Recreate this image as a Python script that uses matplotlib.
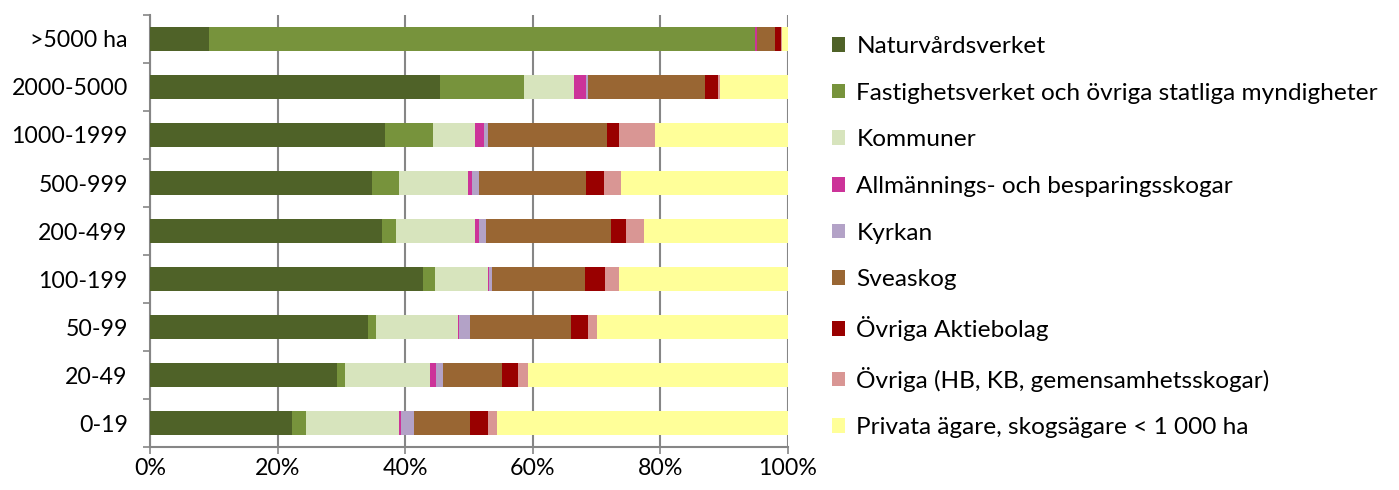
import numpy as np
import matplotlib.pyplot as plt

plt.rcParams['font.family'] = ['Lato', 'DejaVu Sans']

categories = ['0-19', '20-49', '50-99', '100-199', '200-499', '500-999',
              '1000-1999', '2000-5000', '>5000 ha']

owners = ['Naturvårdsverket',
          'Fastighetsverket och övriga statliga myndigheter',
          'Kommuner',
          'Allmännings- och besparingsskogar',
          'Kyrkan',
          'Sveaskog',
          'Övriga Aktiebolag',
          'Övriga (HB, KB, gemensamhetsskogar)',
          'Privata ägare, skogsägare < 1 000 ha']

# share in percent per size class (bottom row -> top row)
naturvard = [22.3, 29.3, 34.2, 42.8, 36.3, 34.8, 36.8, 45.4, 9.3]
fastighet = [2.2, 1.3, 1.3, 1.9, 2.2, 4.2, 7.5, 13.2, 85.6]
kommuner = [14.5, 13.3, 12.7, 8.3, 12.4, 10.9, 6.6, 7.9, 0.0]
allmanning = [0.4, 0.9, 0.3, 0.2, 0.7, 0.6, 1.4, 1.8, 0.3]
kyrkan = [2.0, 1.2, 1.6, 0.4, 1.1, 1.0, 0.7, 0.4, 0.0]
sveaskog = [8.7, 9.1, 15.9, 14.6, 19.5, 16.9, 18.7, 18.3, 2.7]
ovr_ab = [2.9, 2.6, 2.6, 3.1, 2.4, 2.7, 1.8, 2.0, 1.0]
ovriga = [1.4, 1.5, 1.5, 2.2, 2.9, 2.8, 5.6, 0.3, 0.2]
privata = [45.6, 40.8, 29.9, 26.5, 22.5, 26.1, 20.9, 10.7, 1.1]

series = [naturvard, fastighet, kommuner, allmanning, kyrkan,
          sveaskog, ovr_ab, ovriga, privata]
colors = ['#4F6228', '#77933C', '#D7E4BD', '#CC3399', '#B3A2C7',
          '#996633', '#990000', '#D99694', '#FFFF99']

fig = plt.figure(figsize=(13.99, 4.9), dpi=100)
ax = fig.add_axes([150/1399, 1-447/490, 638/1399, 432/490])

y = np.arange(len(categories))
left = np.zeros(len(categories))
handles = []
for vals, c, name in zip(series, colors, owners):
    v = np.array(vals)
    b = ax.barh(y, v, left=left, height=0.52, color=c, label=name, zorder=3)
    handles.append(b)
    left += v

ax.set_xlim(0, 100)
ax.set_ylim(-0.5, len(categories) - 0.5)
ax.set_xticks(np.arange(0, 101, 20))
ax.set_xticklabels([f'{t}%' for t in range(0, 101, 20)])
ax.set_yticks(y)
ax.set_yticklabels(categories)
ax.set_yticks(np.arange(-0.5, len(categories), 1), minor=True)
ax.tick_params(axis='y', which='major', length=0, pad=16, labelsize=16.7)
ax.tick_params(axis='y', which='minor', length=5, color='#868686', width=1.2)
ax.tick_params(axis='x', length=5, color='#868686', width=1.2, labelsize=16.7, pad=3)
ax.grid(axis='x', color='#868686', linewidth=1.5, zorder=0)
for s in ['top', 'right']:
    ax.spines[s].set_visible(False)
for s in ['left', 'bottom']:
    ax.spines[s].set_color('#868686')
    ax.spines[s].set_linewidth(1.5)

fig.legend(handles=handles, loc='upper left', bbox_to_anchor=(810/1399, 1-14/490),
           frameon=False, fontsize=17.6, labelspacing=1.05, handlelength=0.55,
           handleheight=0.55, handletextpad=0.45)

fig.savefig('out.png', dpi=100)
